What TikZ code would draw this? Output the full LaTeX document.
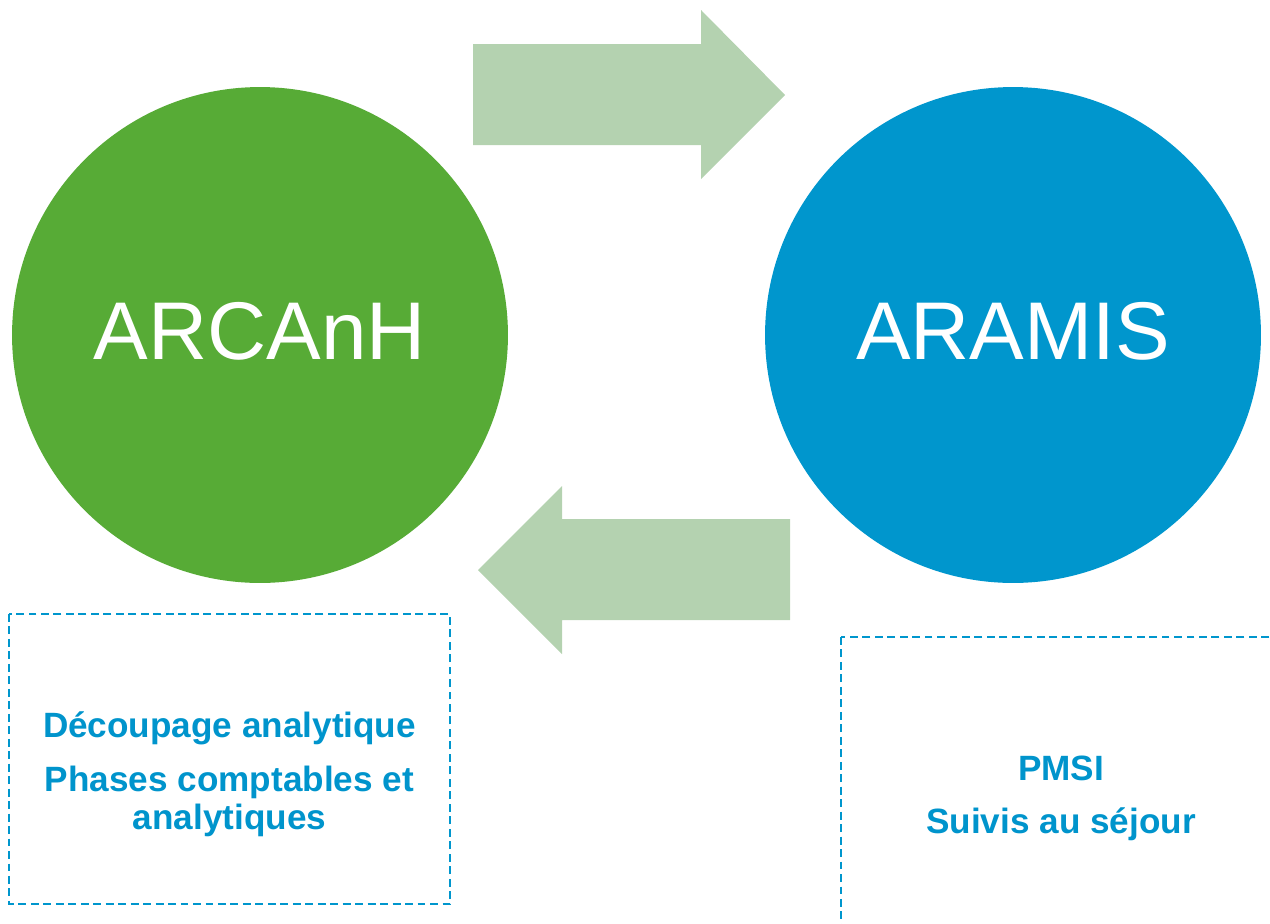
\documentclass[tikz,border=0pt]{standalone}
\usepackage{fontspec}
\setmainfont{Liberation Sans}
\usepackage{tikz}
\usetikzlibrary{positioning}
\definecolor{leafgreen}{RGB}{87,171,54}
\definecolor{seablue}{RGB}{0,150,205}
\definecolor{palegreen}{RGB}{180,210,176}
\definecolor{inkblue}{RGB}{0,148,204}
\tikzset{
	bubble/.style={circle, minimum size=9.92cm, inner sep=0pt, text=white,
		text depth=0.16cm, font=\fontsize{46.6}{56}\selectfont},
	flow/.style={fill=palegreen, draw=none},
	notebox/.style={draw=seablue, line width=1pt, dash pattern=on 4.5pt off 2.6pt},
	notetext/.style={text=inkblue, inner sep=0pt, align=center,
		font=\bfseries\fontsize{20}{21.6}\selectfont},
}

\begin{document}
\begin{tikzpicture}[x=0.02cm, y=-0.02cm]
		\useasboundingbox (0,0) rectangle (1270,923);

		\node[bubble, fill=leafgreen] (arcanh) at (260,335) {ARCAnH};
		\node[bubble, fill=seablue] (aramis) at (1013,335) {ARAMIS};

		% block arrows between the two tools
		\fill[flow] (473,44) -- (701,44) -- (701,10) -- (785,95) -- (701,179)
			-- (701,145) -- (473,145) -- cycle;
		\fill[flow] (790,519) -- (562,519) -- (562,486) -- (478,570) -- (562,654)
			-- (562,620) -- (790,620) -- cycle;

		% notes under each circle
		\draw[notebox] (9,614) rectangle (450,904);
		\begin{scope}
			\clip (0,0) rectangle (1270,923);
			\draw[notebox] (841,637) rectangle (1281,960);
		\end{scope}

		\node[notetext, anchor=base] (decoupage) at (229.5,737) {Découpage analytique};
		\node[notetext, anchor=base] (phases) at (229.5,829) {Phases comptables et\\analytiques};
		\node[notetext, anchor=base] (pmsi) at (1061,780) {PMSI};
		\node[notetext, anchor=base] (suivis) at (1061,833) {Suivis au séjour};
	\end{tikzpicture}
\end{document}
